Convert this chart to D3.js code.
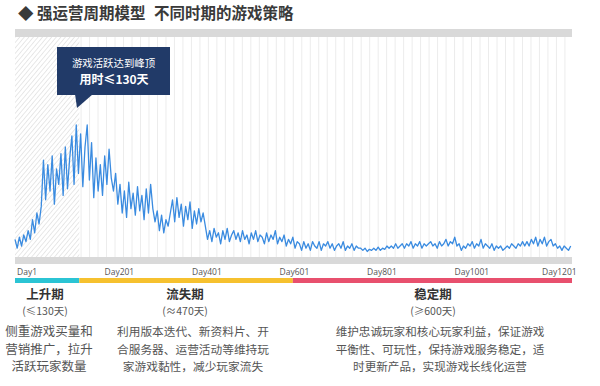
<!DOCTYPE html>
<html>
<head>
<meta charset="utf-8">
<script src="https://cdn.jsdelivr.net/npm/d3@7"></script>
<style>
  body { margin: 0; background: #fff; }
  svg { font-family: "Noto Sans CJK SC", "Noto Sans", sans-serif; }
</style>
</head>
<body>
<svg id="chart" width="600" height="386"></svg>
<script>
// daily active index, one reading every 5 days
const STEP = 5
const risePhase = [8, 4, 9, 5, 10, 7, 12, 8, 17, 11, 20, 15, 23,
    44, 26, 42, 30, 46, 24, 40, 33, 47, 28, 50, 31, 45, 55, 33, 60, 38]
const peakPhase = [56, 32, 50, 60, 35, 52, 27, 45, 30,
    42, 28, 46, 33, 49, 36, 30, 38, 24]
const declinePhase = [33, 20, 30, 18, 34, 22, 29, 19, 32, 21, 28, 17, 31, 20, 33, 22,
    16, 21, 12, 19, 11, 17, 14,
    20, 26, 16, 27, 18, 24, 14, 23, 17, 25, 13, 21, 15, 22, 16, 20, 14,
    8, 12, 7, 13, 9, 11, 6, 12, 8, 13, 7, 10, 12, 8,
    11, 7, 12, 8, 10, 6, 11, 8, 12, 7, 10, 9, 6, 11, 7, 10, 8, 12, 6, 9, 7, 10, 5, 8, 6, 9, 4, 7]
const stablePhase = [6, 3, 7, 4, 6, 3, 7, 5, 4, 7, 3, 6, 5, 7, 4, 6, 3, 5, 6, 4, 7, 3, 5, 4, 6, 3, 5, 4,
    4, 3, 4, 2.5, 3.5, 3, 4, 3, 4.5, 3, 4, 3.5, 5, 4,
    5, 4, 6, 4, 5, 6, 4, 6, 5, 7, 4, 6, 5, 7, 4, 6, 5, 6, 7, 5, 6, 4, 7, 5, 6, 8, 5, 7, 6, 9, 5, 6,
    3, 5, 4, 6, 5, 7, 4, 6, 5, 8, 4, 6, 5, 4, 6, 3, 5, 4, 5, 3, 4, 5, 4, 6, 5, 4, 6, 5, 7, 5,
    7, 5, 8, 6, 9, 5, 8, 6, 9, 5, 7, 8, 5, 6,
    4, 5, 3, 5, 4, 3, 5]

const tickDays = [1, 201, 401, 601, 801, 1001, 1201]
const tickLabels = ["Day1", "Day201", "Day401", "Day601", "Day801", "Day1001", "Day1201"]

const phaseNames = ["上升期", "流失期", "稳定期"]
const phaseSpans = ["(≤130天)", "(≈470天)", "(≥600天)"]
const phaseEnds = [148, 636, 1274]
const phaseColors = ["#2bc4d4", "#f6c12f", "#e8506e"]
const phaseNotes = [
    ["侧重游戏买量和", "营销推广，拉升", "活跃玩家数量"],
    ["利用版本迭代、新资料片、开", "合服务器、运营活动等维持玩", "家游戏黏性，减少玩家流失"],
    ["维护忠诚玩家和核心玩家利益，保证游戏", "平衡性、可玩性，保持游戏服务稳定，适", "时更新产品，实现游戏长线化运营"]
]
const phaseLabelX = [45, 185, 433]
const phaseNoteX = [49, 193, 440]
const phaseNoteSize = [12.5, 11.7, 11.6]

const values = risePhase.concat(peakPhase, declinePhase, stablePhase)
const data = values.map((v, i) => ({day: 1 + i * STEP, value: v}))

const svg = d3.select("#chart")
const plotLeft = 15, plotRight = 572, plotTop = 37, plotBottom = 257

let x = d3.scaleLinear().domain([1, 1274]).range([plotLeft, plotRight])
let y = d3.scaleLinear().domain([0, 100]).range([plotBottom, plotTop])

// title
const title = svg.append("g")
    .attr("font-size", 15.5).attr("font-weight", "bold").attr("fill", "#3a3a3a")
title.append("text").attr("x", 18).attr("y", 19).text("◆")
title.append("text").attr("x", 37).attr("y", 19).text("强运营周期模型")
title.append("text").attr("x", 154).attr("y", 19).text("不同时期的游戏策略")

// hatch pattern for the rising phase
const defs = svg.append("defs")
const pat = defs.append("pattern")
    .attr("id", "hatch").attr("patternUnits", "userSpaceOnUse")
    .attr("width", 3.5).attr("height", 3.5)
    .attr("patternTransform", "rotate(40)")
pat.append("line").attr("x1", 0).attr("y1", 0).attr("x2", 0).attr("y2", 3.5)
    .attr("stroke", "#d2d2d2").attr("stroke-width", 1)

// top and bottom gray bands
svg.append("rect").attr("x", plotLeft).attr("y", 29).attr("width", plotRight - plotLeft).attr("height", plotTop - 29).attr("fill", "#d9d9d9")
svg.append("rect").attr("x", plotLeft).attr("y", plotBottom).attr("width", plotRight - plotLeft).attr("height", 7).attr("fill", "#d9d9d9")

svg.append("rect")
    .attr("x", x(1)).attr("y", plotTop)
    .attr("width", x(phaseEnds[0]) - x(1)).attr("height", plotBottom - plotTop)
    .attr("fill", "url(#hatch)")

// vertical grid
svg.append("g").selectAll("line")
    .data(d3.range(phaseEnds[0] + 4, 1274, 19.4))
    .enter().append("line")
    .attr("x1", d => x(d)).attr("x2", d => x(d))
    .attr("y1", plotTop).attr("y2", plotBottom)
    .attr("stroke", "#ececec").attr("stroke-width", 1)

// the line
let line = d3.line()
    .x(d => x(d.day))
    .y(d => y(d.value))

svg.append("path")
    .datum(data)
    .attr("fill", "none")
    .attr("stroke", "#3a8be0")
    .attr("stroke-width", 1.3)
    .attr("stroke-linejoin", "round")
    .attr("d", line)

// day labels
svg.append("g").selectAll("text")
    .data(tickDays)
    .enter().append("text")
    .attr("x", d => x(d) + 2).attr("y", 275)
    .attr("font-size", 8.5).attr("fill", "#555")
    .attr("font-family", "'Open Sans', sans-serif")
    .text((d, i) => tickLabels[i])

// phase bar
const starts = [1].concat(phaseEnds.slice(0, -1))
svg.append("g").selectAll("rect")
    .data(phaseEnds)
    .enter().append("rect")
    .attr("x", (d, i) => x(starts[i])).attr("y", 278)
    .attr("width", (d, i) => x(d) - x(starts[i])).attr("height", 5)
    .attr("fill", (d, i) => phaseColors[i])

// phase labels
phaseNames.forEach((name, i) => {
    const g = svg.append("g").attr("text-anchor", "middle")
    g.append("text").attr("x", phaseLabelX[i]).attr("y", 299)
        .attr("font-size", 12.5).attr("font-weight", "bold").attr("fill", "#333").text(name)
    g.append("text").attr("x", phaseLabelX[i]).attr("y", 315)
        .attr("font-size", 10.5).attr("fill", "#555").text(phaseSpans[i])
    phaseNotes[i].forEach((t, j) => {
        g.append("text").attr("x", phaseNoteX[i]).attr("y", 336 + j * 17.5)
            .attr("font-size", phaseNoteSize[i]).attr("fill", "#555").text(t)
    })
})

// callout
svg.append("rect").attr("x", 57).attr("y", 47).attr("width", 113).attr("height", 48).attr("fill", "#213a68")
svg.append("path").attr("d", "M75,94 L93,94 L77,108 Z").attr("fill", "#213a68")
svg.append("text").attr("x", 113.5).attr("y", 67).attr("text-anchor", "middle")
    .attr("font-size", 10.4).attr("fill", "#fff").text("游戏活跃达到峰顶")
svg.append("text").attr("x", 114).attr("y", 84).attr("text-anchor", "middle")
    .attr("font-size", 12).attr("font-weight", "bold").attr("fill", "#fff").text("用时≤130天")
</script>
</body>
</html>
